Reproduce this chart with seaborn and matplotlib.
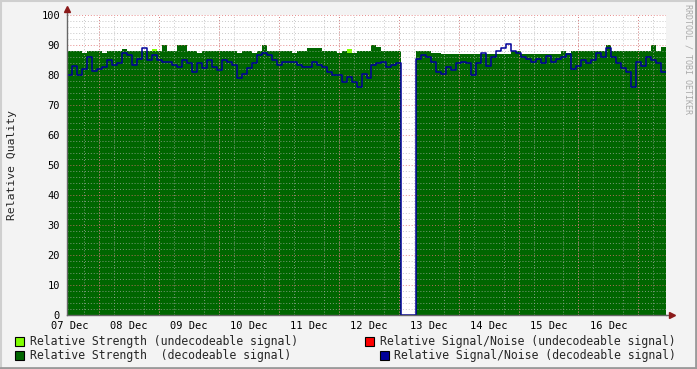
import numpy as np
import pandas as pd
import matplotlib
matplotlib.use("Agg")
import matplotlib.pyplot as plt
import matplotlib.dates as mdates
from matplotlib.ticker import MultipleLocator
from matplotlib.patches import Rectangle
from matplotlib.lines import Line2D
import seaborn as sns

# samples every 2 hours, starting just before 07 Dec 00:00
start = "2023-12-06 23:05"
step = "2h"

# Relative Signal/Noise (decodeable signal)
snr_decodeable = [
    80, 83, 80, 82, 86, 81.5, 82, 82.8, 85, 83.3, 84, 87.2, 86.7, 83.3, 85.5, 89, 85, 86.7, 85, 84.5,
    84.5, 83.3, 82.8, 85, 84, 81, 84, 82.2, 85, 82.8, 81.7, 85, 84.5, 83.3, 79, 80.5, 82.2, 84, 86.7, 87.2,
    86.7, 85, 83.3, 84.5, 84.5, 84.5, 83.3, 82.8, 82.8, 84.5, 83.3, 82.8, 81, 80, 80, 77.8, 79.5, 77.8, 76.1, 80.5,
    79, 83.3, 84, 84.5, 82.8, 83.3, 84, 0, 0, 0, 85.5, 86.7, 86, 84.5, 81, 80.5, 82.8, 81.7, 84, 84.5,
    84, 80, 84, 87.5, 83, 86, 88, 89, 90.5, 88, 87.5, 86, 85.5, 84.5, 85.5, 84, 86.5, 84.5, 85.5, 86,
    87, 82, 83, 85, 84, 85, 87.5, 86, 89, 86, 84, 82.5, 81, 76, 84.5, 83, 86, 85, 84, 81,
]

# Relative Strength (decodeable signal)
strength_decodeable = [
    88, 88, 88, 87.2, 88, 88, 88, 87.2, 88, 88, 88, 88.7, 88, 88, 88, 88, 88, 88, 88, 90,
    88, 88, 90, 90, 88, 88, 87.2, 88, 88, 88, 88, 88, 88, 88, 87.2, 88, 88, 87.2, 88, 90,
    88, 88, 88, 88, 88, 87.2, 88, 88, 89, 89, 89, 88, 88, 88, 87.2, 88, 87.2, 87.2, 88, 88,
    88, 90, 89.5, 88, 88, 88, 88, 0, 0, 0, 88, 88, 88, 87.5, 87.5, 87, 87, 87, 87, 87,
    87, 87, 87, 87, 87, 87, 87, 87, 87, 88, 88, 87, 87, 87, 87, 87, 87, 87, 87, 88,
    87.5, 88, 88, 88, 88, 88, 88, 88, 90, 88, 88, 88, 88, 88, 88, 88, 88, 90, 88, 89.5,
]

# Relative Strength (undecodeable signal) - only a few samples show above the green
undecodeable_idx = [11, 17, 56]
undecodeable_val = [88.7, 88.7, 88.7]

legend_labels = [
    "Relative Strength (undecodeable signal)",
    "Relative Signal/Noise (undecodeable signal)",
    "Relative Strength  (decodeable signal)",
    "Relative Signal/Noise (decodeable signal)",
]
legend_colors = ["#80FF00", "#FF0000", "#006600", "#000099"]

W, H = 697, 369


def px(x, y):
    return x / W, 1 - y / H


sns.set_style("white")
plt.rcParams["font.family"] = ["DejaVu Sans Mono", "DejaVu Sans"]

n = len(snr_decodeable)
times = pd.date_range(start, periods=n + 1, freq=step)
snr = np.array(snr_decodeable + [snr_decodeable[-1]], dtype=float)
strength = np.array(strength_decodeable + [strength_decodeable[-1]], dtype=float)
undec = np.full(n + 1, np.nan)
undec[undecodeable_idx] = undecodeable_val

fig = plt.figure(figsize=(W / 100, H / 100), dpi=100, facecolor="#F3F3F3")
ax = fig.add_axes([67 / W, 54 / H, 599 / W, 300 / H])
ax.set_facecolor("white")

ax.fill_between(times, 0, np.nan_to_num(undec), step="post", color="#80FF00", lw=0, zorder=1)
ax.fill_between(times, 0, strength, step="post", color="#006600", lw=0, zorder=1.2)
sns.lineplot(x=times, y=snr, drawstyle="steps-post", color="#000099", lw=1.1, ax=ax, zorder=3)

ax.set_xlim(times[0], times[-1])
ax.set_ylim(0, 100)
ax.set_xlabel("")
ax.set_ylabel("")

# grid: minor grey dots, major red dots, on top of the areas
ax.set_axisbelow(False)
ax.yaxis.set_major_locator(MultipleLocator(10))
ax.yaxis.set_minor_locator(MultipleLocator(2))
ax.xaxis.set_major_locator(mdates.DayLocator())
ax.xaxis.set_major_formatter(mdates.DateFormatter("%d %b"))
ax.xaxis.set_minor_locator(mdates.HourLocator(byhour=[0, 6, 12, 18]))
ax.grid(which="minor", color="#B0B0B0", alpha=0.7, linestyle=(0, (1, 2)), lw=0.7)
ax.yaxis.grid(which="major", color="#E07070", alpha=0.8, linestyle=(0, (1, 2)), lw=0.7)
ax.xaxis.grid(which="major", visible=False)
for noon in pd.date_range("2023-12-07 12:00", periods=10, freq="D"):
    ax.axvline(noon, color="#E07070", alpha=0.8, linestyle=(0, (1, 2)), lw=0.7, zorder=2.6)

for s in ["top", "right"]:
    ax.spines[s].set_visible(False)
for s in ["left", "bottom"]:
    ax.spines[s].set_color("#666666")
    ax.spines[s].set_linewidth(1)
    ax.spines[s].set_zorder(4)

ax.tick_params(axis="both", which="major", labelsize=7.5, length=2, width=0.8,
               color="#666666", labelcolor="black", pad=3)
ax.tick_params(axis="both", which="minor", length=1.5, width=0.6, color="#999999")
ax.tick_params(axis="x", which="major", pad=2)

# axis arrows
fig.add_artist(Line2D([67 / W, 67 / W], [1 - 15 / H, 1 - 9 / H], color="#666666", lw=1))
fig.add_artist(Line2D([666 / W, 671 / W], [1 - 315 / H, 1 - 315 / H], color="#666666", lw=1))
fig.add_artist(Line2D([67 / W], [1 - 9 / H], marker="^", ms=4, color="#8B1A1A", lw=0))
fig.add_artist(Line2D([672 / W], [1 - 315 / H], marker=">", ms=4, color="#8B1A1A", lw=0))

# y label
fig.text(*px(12, 165), "Relative Quality", rotation=90, ha="center", va="center", fontsize=8.2)

# watermark
fig.text(*px(688, 4), "RRDTOOL / TOBI OETIKER", rotation=270, ha="center", va="top",
         fontsize=6, color="#AAAAAA")

# legend
legend_pos = [(15, 30, 341), (365, 380, 341), (15, 30, 355), (380, 394, 355)]
for (bx, tx, ty), lab, col in zip(legend_pos, legend_labels, legend_colors):
    x0, y0 = px(bx, ty + 4.5)
    fig.add_artist(Rectangle((x0, y0), 9 / W, 9 / H, transform=fig.transFigure,
                             facecolor=col, edgecolor="black", lw=0.8))
    fig.text(*px(tx, ty), lab, ha="left", va="center", fontsize=8.3)

# frame
fig.add_artist(Line2D([0, 1], [1 - 0.5 / H] * 2, color="#CFCFCF", lw=1.5))
fig.add_artist(Line2D([0.5 / W] * 2, [0, 1], color="#CFCFCF", lw=1.5))
fig.add_artist(Line2D([1 - 1 / W] * 2, [0, 1], color="#9A9A9A", lw=2))
fig.add_artist(Line2D([0, 1], [1 / H] * 2, color="#9A9A9A", lw=2))

fig.savefig("out.png", dpi=100, facecolor=fig.get_facecolor())
